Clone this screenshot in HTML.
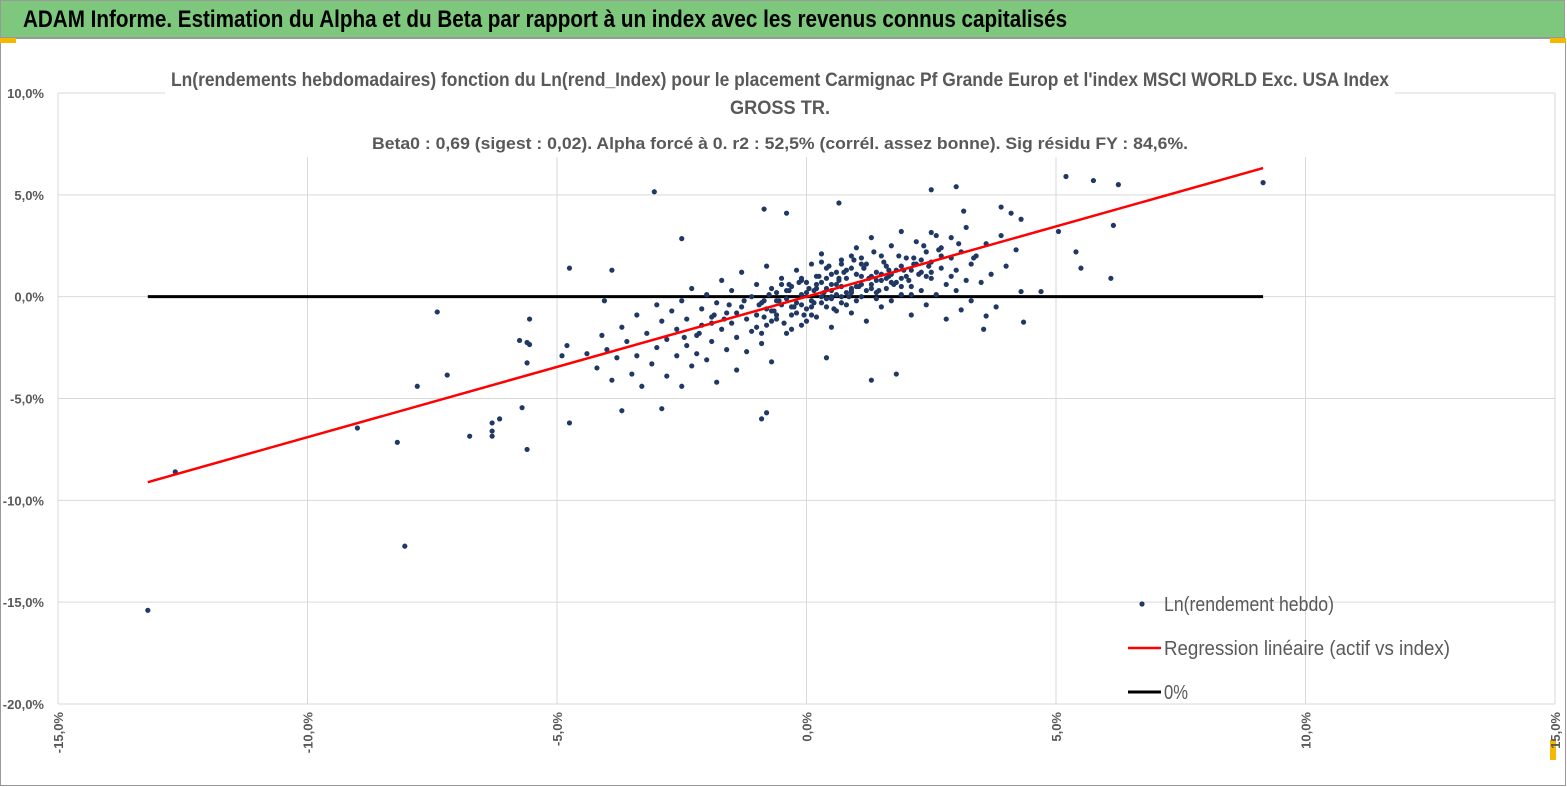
<!DOCTYPE html>
<html><head><meta charset="utf-8"><style>
body{margin:0;width:1567px;height:787px;overflow:hidden;background:#fff;font-family:"Liberation Sans",sans-serif}
#hdr{position:absolute;left:0;top:0;width:1565px;height:38px;background:#7dc87d;border:1px solid #999;box-sizing:border-box}
#hdr span{position:absolute;left:22px;top:0;font:bold 24px "Liberation Sans",sans-serif;line-height:38px;color:#000;transform:scaleX(0.86);transform-origin:0 50%;white-space:nowrap}
</style></head><body>
<div id="hdr"><span>ADAM Informe. Estimation du Alpha et du Beta par rapport à un index avec les revenus connus capitalisés</span></div>
<svg id="c" width="1567" height="787" style="position:absolute;left:0;top:0"></svg>
<script>
const xTicks=[-15,-10,-5,0,5,10,15];
const yTicks=[10,5,0,-5,-10,-15,-20];
const xLabels=["-15,0%","-10,0%","-5,0%","0,0%","5,0%","10,0%","15,0%"];
const yLabels=["10,0%","5,0%","0,0%","-5,0%","-10,0%","-15,0%","-20,0%"];
const beta=0.69;
const regRange=[-13.2,9.15];
const ptsX=[-13.2,-12.65,-9.0,-8.2,-8.05,-7.8,-7.4,-7.2,-6.75,-6.3,-6.3,-6.3,-6.15,-5.75,-5.7,-5.6,-5.6,-5.55,-5.55,-5.6,-4.75,-4.75,-4.8,-4.9,-3.9,-3.05,-2.5,-0.85,-0.4,-0.9,-0.8,0.65,2.5,2.5,3.0,3.15,3.9,4.1,4.3,4.3,4.35,4.7,5.05,5.2,5.4,5.5,5.75,6.1,6.15,6.25,9.15,3.1,3.55,3.6,1.3,1.8,0.4,-4.05,
-4.4,-4.2,-4.1,-4.0,-3.9,-3.8,-3.7,-3.7,-3.6,-3.5,-3.4,-3.4,-3.3,-3.2,-3.1,-3.0,-3.0,-2.9,-2.9,-2.8,-2.8,-2.7,-2.6,-2.6,-2.5,-2.5,-2.4,-2.4,-2.3,-2.3,-2.2,-2.2,-2.1,-2.1,-2.0,-2.0,-1.9,-1.9,-1.8,-1.8,-1.7,-1.7,-1.6,-1.6,-1.5,-1.5,-1.4,-1.4,-1.3,-1.3,-1.2,-1.2,-1.1,-1.1,-1.0,-1.0,-0.9,-0.9,-0.8,-0.8,-0.7,-0.7,-0.6,-0.6,-0.5,-0.5,-0.4,-0.4,-0.3,-0.3,-0.2,-0.2,-0.1,-0.1,0.0,0.0,0.1,0.1,0.2,0.2,0.3,0.3,0.4,0.4,0.5,0.5,0.6,0.6,0.7,0.7,0.8,0.8,0.9,0.9,1.0,1.0,1.1,1.1,1.2,1.2,1.3,1.3,1.4,1.4,1.5,1.5,1.6,1.6,1.7,1.7,1.8,1.8,1.9,1.9,2.0,2.0,2.1,2.1,2.2,2.2,2.3,2.3,2.4,2.4,2.5,2.5,2.6,2.6,2.7,2.7,2.8,2.8,2.9,2.9,3.0,3.0,3.1,3.2,3.2,3.3,3.3,3.4,3.5,3.6,3.7,3.8,3.9,4.0,4.2,
-0.6,-0.4,-0.2,0.0,0.1,0.2,0.3,0.4,0.5,0.5,0.6,0.7,0.8,0.8,0.9,1.0,1.0,1.1,1.2,1.3,1.4,1.5,1.6,1.7,0.2,0.4,0.6,-0.1,-0.3,-0.7,0.9,1.1,0.3,0.0,-0.8,-1.0,1.9,2.1,0.7,0.5,
-0.95,-0.85,-0.75,-0.65,-0.55,-0.45,-0.35,-0.25,-0.15,-0.05,0.05,0.15,0.25,0.35,0.45,0.55,0.65,0.75,0.85,0.95,1.05,1.15,1.25,1.35,1.45,1.55,1.65,1.75,1.85,1.95,2.05,2.15,2.25,2.35,2.45,
-0.9,-0.7,-0.5,-0.3,-0.1,0.1,0.3,0.5,0.7,0.9,1.1,1.3,1.5,1.7,1.9,2.1,2.3,2.5,2.7,2.9,
-0.85,-0.6,-0.35,-0.1,0.15,0.4,0.65,0.9,1.15,1.4,1.65,1.9,2.15,2.4,2.65,3.05,3.35,-1.4,-1.65,-1.9,-2.15,-2.45,-1.25,-1.55,-1.85];
const ptsY=[-15.4,-8.6,-6.45,-7.15,-12.25,-4.4,-0.75,-3.85,-6.85,-6.2,-6.6,-6.85,-6.0,-2.15,-5.45,-7.5,-3.25,-2.35,-1.1,-2.25,1.4,-6.2,-2.4,-2.9,1.3,5.15,2.85,4.3,4.1,-6.0,-5.7,4.6,3.15,5.25,5.4,4.2,4.4,4.1,3.8,0.25,-1.25,0.25,3.2,5.9,2.2,1.4,5.7,0.9,3.5,5.5,5.6,-0.65,-1.6,-0.95,-4.1,-3.8,-3.0,-0.2,
-2.8,-3.5,-1.9,-2.6,-4.1,-3.0,-1.5,-5.6,-2.2,-3.8,-0.9,-2.9,-4.4,-1.8,-3.3,-0.4,-2.5,-5.5,-1.2,-3.9,-2.1,-0.7,-2.9,-1.6,-4.4,-0.2,-2.4,-1.1,-3.4,0.4,-1.9,-2.8,-0.6,-1.4,-3.1,0.1,-2.2,-1.0,-0.3,-4.2,-1.6,0.8,-2.6,-0.8,-1.3,0.3,-3.6,-2.0,-0.5,1.2,-1.1,-2.7,0.0,-1.7,-0.9,0.6,-2.3,-0.3,-1.4,1.5,-0.7,-3.2,0.2,-1.1,-0.4,0.9,-1.8,-0.1,0.5,-0.9,-0.3,1.3,-1.4,0.1,-0.6,0.7,-0.2,1.6,-1.0,0.4,0.0,2.1,-0.5,0.9,0.3,-1.5,1.2,0.6,-0.3,1.8,0.2,0.9,-0.8,1.4,0.5,2.4,0.0,1.0,-1.2,1.6,0.6,2.9,0.2,1.2,-0.5,2.0,0.9,1.5,-0.2,2.5,0.7,1.3,0.1,3.2,1.0,1.9,-0.9,0.5,1.6,2.7,0.3,1.2,2.2,-0.4,0.9,1.7,3.0,0.1,1.4,2.4,-1.1,0.6,1.9,2.9,0.3,1.3,2.2,0.8,3.4,1.6,-0.2,2.0,0.7,2.6,1.1,-0.5,3.0,1.5,2.3,
-0.2,0.3,-0.8,0.2,-0.5,1.0,-0.3,0.4,1.1,-0.1,0.1,0.5,-0.4,1.3,0.3,-0.2,1.1,0.6,0.3,1.0,-0.1,0.8,0.4,1.1,0.6,1.4,-0.7,0.8,-0.5,0.4,2.0,1.6,1.7,-1.2,-0.6,-1.5,0.9,1.3,0.0,0.6,
-0.4,-1.0,0.1,-0.7,-0.2,-1.3,0.3,-0.5,0.7,-0.9,0.4,-0.3,1.0,0.2,1.5,-0.6,0.8,1.2,0.0,1.8,0.5,1.4,0.9,2.2,0.3,1.7,1.0,0.6,2.0,1.3,0.8,1.9,1.1,2.5,1.5,
-1.8,-1.2,0.6,-1.6,0.9,-0.9,0.7,0.0,1.6,0.2,1.9,0.4,1.1,0.7,1.5,0.1,1.8,1.2,2.0,1.0,
-0.2,-0.9,0.6,-0.4,0.3,-0.1,0.9,0.4,1.4,0.8,1.3,0.5,1.6,1.0,2.3,2.6,1.9,-0.8,-1.1,-1.3,-1.8,-2.0,-0.2,-0.4,-0.9];
const X0=58,X1=1555,Y0=93,Y1=704,xMin=-15,xMax=15,yMin=-20,yMax=10;
const sx=v=>X0+(v-xMin)/(xMax-xMin)*(X1-X0);
const sy=v=>Y1-(v-yMin)/(yMax-yMin)*(Y1-Y0);
const svg=document.getElementById('c');const NS='http://www.w3.org/2000/svg';
function mk(t,a,p){const e=document.createElementNS(NS,t);for(const k in a)e.setAttribute(k,a[k]);(p||svg).appendChild(e);return e;}
let b=mk('rect',{x:0.5,y:38.5,width:1565,height:747,fill:'none',stroke:'#999'});


mk('rect',{x:0,y:38,width:16,height:5,fill:'#f5b800'});
mk('rect',{x:1550,y:38,width:16,height:5,fill:'#f5b800'});
mk('rect',{x:1550,y:740,width:6,height:20,fill:'#f5b800'});
yTicks.forEach((t,i)=>{
 let l=mk('line',{x1:X0,x2:X1,y1:sy(t),y2:sy(t),stroke:'#d9d9d9','stroke-width':1});
 
 
 let tx=mk('text',{x:44,y:sy(t)+5,'text-anchor':'end','font-size':13,'font-weight':'bold',fill:'#595959'});
 tx.textContent=yLabels[i];
 
 
});
xTicks.forEach((t,i)=>{
 let l=mk('line',{x1:sx(t),x2:sx(t),y1:Y0,y2:Y1,stroke:'#d9d9d9','stroke-width':1});
 
 
 let tx=mk('text',{x:sx(t)+5,y:712,'text-anchor':'end','font-size':13,'font-weight':'bold',fill:'#595959',transform:`rotate(-90 ${sx(t)+5} 712)`});
 tx.textContent=xLabels[i];
 
 
});
mk('rect',{x:165,y:62,width:1230,height:95,fill:'#fff'});
const titles=["Ln(rendements hebdomadaires) fonction du Ln(rend_Index) pour le placement Carmignac Pf Grande Europ et l'index MSCI WORLD Exc. USA Index","GROSS TR.","Beta0 : 0,69  (sigest : 0,02). Alpha forcé à 0. r2 : 52,5% (corrél. assez bonne). Sig résidu FY : 84,6%."];
const tlen=[1218,100,816];
[86,114,149].forEach((y,i)=>{let t=mk('text',{x:780,y:y,'text-anchor':'middle','font-size':i==2?17:19,'font-weight':'bold',fill:'#595959',textLength:tlen[i],lengthAdjust:'spacingAndGlyphs'});t.textContent=titles[i];
 
 });
let z=mk('line',{x1:sx(regRange[0]),x2:sx(regRange[1]),y1:sy(0),y2:sy(0),stroke:'#000','stroke-width':3});


ptsX.forEach((x,i)=>{let c=mk('circle',{cx:sx(x),cy:sy(ptsY[i]),r:2.6,fill:'#203864'});
 
 });
let r=mk('line',{x1:sx(regRange[0]),x2:sx(regRange[1]),y1:sy(beta*regRange[0]),y2:sy(beta*regRange[1]),stroke:'#ff0000','stroke-width':2.5});


const lg=mk('g',{});


mk('circle',{cx:1142,cy:604,r:2.6,fill:'#203864'},lg);
mk('line',{x1:1128,x2:1161,y1:648,y2:648,stroke:'#ff0000','stroke-width':2.5},lg);
mk('line',{x1:1128,x2:1161,y1:692,y2:692,stroke:'#000','stroke-width':3},lg);
[["Ln(rendement hebdo)",611,170],["Regression linéaire (actif vs index)",655,286],["0%",699,24]].forEach(([s,y,w])=>{let t=mk('text',{x:1164,y:y,'font-size':20,fill:'#595959',textLength:w,lengthAdjust:'spacingAndGlyphs'},lg);t.textContent=s;
 
 });
</script>
</body></html>
